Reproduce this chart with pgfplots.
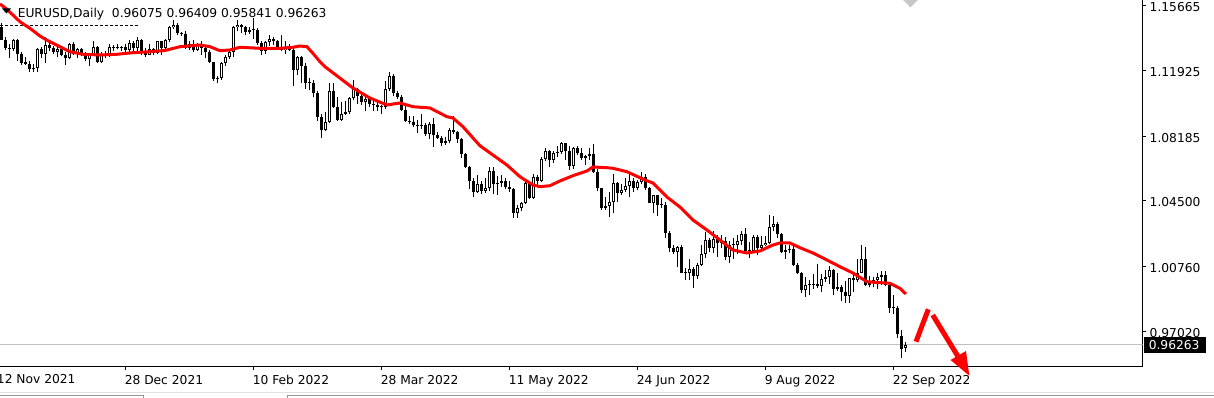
\documentclass[border=0pt]{standalone}
\usepackage{fontspec}
\setmainfont{DejaVu Sans}
\usepackage{pgfplots}
\usepackage{pgfplotstable}
\pgfplotsset{compat=1.18}

\pgfplotstableread{
i o h l c
0 1.1447 1.1464 1.1432 1.1445
1 1.1445 1.1465 1.1366 1.1369
2 1.1369 1.1386 1.1309 1.1320
3 1.1320 1.1344 1.1264 1.1319
4 1.1319 1.1374 1.1308 1.1368
5 1.1368 1.1374 1.1250 1.1288
6 1.1290 1.1300 1.1226 1.1236
7 1.1236 1.1271 1.1226 1.1234
8 1.1234 1.1248 1.1186 1.1200
9 1.1200 1.1230 1.1187 1.1208
10 1.1208 1.1325 1.1185 1.1318
11 1.1318 1.1330 1.1263 1.1290
12 1.1290 1.1383 1.1235 1.1338
13 1.1338 1.1354 1.1305 1.1320
14 1.1320 1.1335 1.1290 1.1300
15 1.1300 1.1334 1.1270 1.1315
16 1.1315 1.1318 1.1275 1.1285
17 1.1285 1.1297 1.1227 1.1265
18 1.1265 1.1353 1.1257 1.1343
19 1.1343 1.1355 1.1285 1.1290
20 1.1290 1.1325 1.1265 1.1315
21 1.1315 1.1322 1.1275 1.1285
22 1.1285 1.1298 1.1250 1.1258
23 1.1258 1.1290 1.1222 1.1290
24 1.1290 1.1360 1.1280 1.1330
25 1.1330 1.1335 1.1235 1.1240
26 1.1240 1.1300 1.1235 1.1280
27 1.1280 1.1305 1.1265 1.1285
28 1.1285 1.1345 1.1270 1.1330
29 1.1330 1.1342 1.1303 1.1325
30 1.1325 1.1345 1.1315 1.1320
31 1.1320 1.1335 1.1305 1.1328
32 1.1328 1.1345 1.1295 1.1310
33 1.1310 1.1370 1.1300 1.1350
34 1.1350 1.1360 1.1290 1.1325
35 1.1325 1.1385 1.1300 1.1370
36 1.1370 1.1375 1.1280 1.1300
37 1.1300 1.1320 1.1272 1.1285
38 1.1285 1.1346 1.1280 1.1315
39 1.1315 1.1320 1.1285 1.1295
40 1.1295 1.1365 1.1290 1.1360
41 1.1360 1.1365 1.1285 1.1325
42 1.1325 1.1375 1.1315 1.1367
43 1.1367 1.1450 1.1355 1.1440
44 1.1440 1.1482 1.1430 1.1455
45 1.1455 1.1465 1.1394 1.1410
46 1.1410 1.1415 1.1390 1.1405
47 1.1405 1.1420 1.1315 1.1325
48 1.1325 1.1360 1.1310 1.1345
49 1.1345 1.1370 1.1300 1.1310
50 1.1310 1.1350 1.1305 1.1345
51 1.1345 1.1365 1.1285 1.1325
52 1.1325 1.1330 1.1265 1.1300
53 1.1300 1.1310 1.1235 1.1240
54 1.1240 1.1245 1.1135 1.1145
55 1.1145 1.1165 1.1121 1.1150
56 1.1150 1.1240 1.1140 1.1235
57 1.1235 1.1280 1.1220 1.1270
58 1.1270 1.1315 1.1260 1.1300
59 1.1300 1.1450 1.1270 1.1440
60 1.1440 1.1485 1.1420 1.1455
61 1.1455 1.1460 1.1410 1.1440
62 1.1440 1.1450 1.1395 1.1415
63 1.1415 1.1445 1.1405 1.1425
64 1.1425 1.1495 1.1375 1.1425
65 1.1425 1.1435 1.1340 1.1350
66 1.1350 1.1365 1.1280 1.1305
67 1.1305 1.1365 1.1290 1.1355
68 1.1355 1.1395 1.1335 1.1375
69 1.1375 1.1385 1.1340 1.1360
70 1.1360 1.1370 1.1315 1.1320
71 1.1320 1.1395 1.1305 1.1310
72 1.1310 1.1360 1.1290 1.1325
73 1.1325 1.1345 1.1305 1.1310
74 1.1310 1.1320 1.1106 1.1195
75 1.1195 1.1275 1.1170 1.1270
76 1.1270 1.1275 1.1120 1.1220
77 1.1220 1.1235 1.1090 1.1125
78 1.1125 1.1150 1.1080 1.1120
79 1.1120 1.1140 1.1040 1.1065
80 1.1065 1.1075 1.0905 1.0930
81 1.0930 1.0945 1.0806 1.0855
82 1.0855 1.0955 1.0850 1.0900
83 1.0900 1.1120 1.0895 1.1075
84 1.1075 1.1120 1.0980 1.0985
85 1.0985 1.1040 1.0905 1.0910
86 1.0910 1.1015 1.0905 1.0945
87 1.0945 1.1020 1.0940 1.0955
88 1.0955 1.1045 1.0945 1.1035
89 1.1035 1.1137 1.1025 1.1090
90 1.1090 1.1095 1.1005 1.1050
91 1.1050 1.1070 1.0995 1.1015
92 1.1015 1.1045 1.0965 1.1030
93 1.1030 1.1040 1.0985 1.1005
94 1.1005 1.1025 1.0965 1.0995
95 1.0995 1.1025 1.0965 1.0985
96 1.0985 1.0995 1.0945 1.0985
97 1.0985 1.1135 1.0975 1.1090
98 1.1090 1.1185 1.1075 1.1160
99 1.1160 1.1175 1.1050 1.1065
100 1.1065 1.1075 1.1030 1.1045
101 1.1045 1.1055 1.0965 1.0970
102 1.0970 1.0990 1.0900 1.0905
103 1.0905 1.0935 1.0890 1.0900
104 1.0900 1.0935 1.0870 1.0880
105 1.0880 1.0910 1.0837 1.0875
106 1.0875 1.0945 1.0860 1.0885
107 1.0885 1.0895 1.0822 1.0830
108 1.0830 1.0900 1.0805 1.0890
109 1.0890 1.0925 1.0757 1.0825
110 1.0825 1.0840 1.0800 1.0810
111 1.0810 1.0820 1.0760 1.0780
112 1.0780 1.0815 1.0770 1.0790
113 1.0790 1.0865 1.0780 1.0855
114 1.0855 1.0935 1.0830 1.0840
115 1.0840 1.0850 1.0780 1.0800
116 1.0800 1.0810 1.0695 1.0715
117 1.0715 1.0725 1.0635 1.0640
118 1.0640 1.0650 1.0515 1.0560
119 1.0560 1.0580 1.0470 1.0500
120 1.0500 1.0595 1.0495 1.0545
121 1.0545 1.0565 1.0490 1.0505
122 1.0505 1.0580 1.0495 1.0520
123 1.0520 1.0640 1.0505 1.0620
124 1.0620 1.0640 1.0490 1.0545
125 1.0545 1.0590 1.0485 1.0550
126 1.0550 1.0595 1.0530 1.0560
127 1.0560 1.0580 1.0515 1.0530
128 1.0530 1.0565 1.0500 1.0515
129 1.0515 1.0525 1.0354 1.0380
130 1.0380 1.0425 1.0350 1.0410
131 1.0410 1.0445 1.0390 1.0435
132 1.0435 1.0560 1.0430 1.0550
133 1.0550 1.0565 1.0460 1.0465
134 1.0465 1.0600 1.0460 1.0585
135 1.0585 1.0595 1.0530 1.0560
136 1.0560 1.0700 1.0555 1.0690
137 1.0690 1.0750 1.0675 1.0735
138 1.0735 1.0740 1.0645 1.0680
139 1.0680 1.0735 1.0665 1.0725
140 1.0725 1.0765 1.0700 1.0730
141 1.0730 1.0787 1.0715 1.0780
142 1.0780 1.0780 1.0680 1.0735
143 1.0735 1.0765 1.0625 1.0650
144 1.0650 1.0755 1.0630 1.0750
145 1.0750 1.0765 1.0710 1.0720
146 1.0720 1.0750 1.0685 1.0695
147 1.0695 1.0710 1.0655 1.0705
148 1.0705 1.0750 1.0680 1.0715
149 1.0715 1.0775 1.0610 1.0615
150 1.0615 1.0630 1.0505 1.0520
151 1.0520 1.0525 1.0400 1.0410
152 1.0410 1.0470 1.0395 1.0420
153 1.0420 1.0500 1.0359 1.0445
154 1.0445 1.0600 1.0380 1.0550
155 1.0550 1.0555 1.0445 1.0495
156 1.0495 1.0545 1.0485 1.0510
157 1.0510 1.0580 1.0500 1.0535
158 1.0535 1.0605 1.0470 1.0565
159 1.0565 1.0580 1.0500 1.0520
160 1.0520 1.0570 1.0510 1.0555
161 1.0555 1.0615 1.0545 1.0585
162 1.0585 1.0605 1.0510 1.0520
163 1.0520 1.0530 1.0435 1.0440
164 1.0440 1.0485 1.0380 1.0480
165 1.0480 1.0485 1.0365 1.0425
166 1.0425 1.0465 1.0410 1.0425
167 1.0425 1.0445 1.0235 1.0265
168 1.0265 1.0275 1.0160 1.0180
169 1.0180 1.0200 1.0145 1.0160
170 1.0160 1.0190 1.0070 1.0185
171 1.0185 1.0195 1.0035 1.0040
172 1.0040 1.0065 0.9998 1.0035
173 1.0035 1.0120 0.9998 1.0060
174 1.0060 1.0070 0.9952 1.0020
175 1.0020 1.0095 1.0005 1.0085
176 1.0085 1.0200 1.0080 1.0145
177 1.0145 1.0270 1.0125 1.0225
178 1.0225 1.0235 1.0155 1.0180
179 1.0180 1.0280 1.0150 1.0230
180 1.0230 1.0255 1.0130 1.0210
181 1.0210 1.0255 1.0180 1.0220
182 1.0220 1.0245 1.0110 1.0130
183 1.0130 1.0220 1.0095 1.0200
184 1.0200 1.0235 1.0115 1.0195
185 1.0195 1.0255 1.0145 1.0220
186 1.0220 1.0275 1.0195 1.0260
187 1.0260 1.0295 1.0160 1.0165
188 1.0165 1.0215 1.0125 1.0165
189 1.0165 1.0255 1.0150 1.0245
190 1.0245 1.0255 1.0140 1.0180
191 1.0180 1.0250 1.0165 1.0195
192 1.0195 1.0250 1.0190 1.0210
193 1.0210 1.0368 1.0205 1.0300
194 1.0300 1.0365 1.0275 1.0320
195 1.0320 1.0330 1.0235 1.0260
196 1.0260 1.0265 1.0150 1.0160
197 1.0160 1.0200 1.0120 1.0170
198 1.0170 1.0200 1.0150 1.0175
199 1.0175 1.0200 1.0075 1.0085
200 1.0085 1.0095 1.0030 1.0040
201 1.0040 1.0045 0.9925 0.9940
202 0.9940 1.0015 0.9901 0.9970
203 0.9970 0.9995 0.9910 0.9970
204 0.9970 1.0030 0.9945 0.9975
205 0.9975 1.0090 0.9950 0.9965
206 0.9965 1.0030 0.9930 1.0005
207 1.0005 1.0055 0.9985 1.0015
208 1.0015 1.0080 0.9975 1.0055
209 1.0055 1.0060 0.9910 0.9945
210 0.9945 1.0035 0.9935 0.9955
211 0.9955 0.9970 0.9875 0.9930
212 0.9930 0.9990 0.9865 0.9905
213 0.9905 1.0010 0.9865 1.0010
214 1.0010 1.0030 0.9930 0.9995
215 0.9995 1.0115 0.9985 1.0040
216 1.0040 1.0198 1.0035 1.0120
217 1.0120 1.0188 0.9965 0.9970
218 0.9970 1.0020 0.9955 0.9980
219 0.9980 1.0015 0.9955 0.9995
220 0.9995 1.0035 0.9945 1.0015
221 1.0015 1.0050 0.9970 1.0025
222 1.0025 1.0050 0.9965 0.9970
223 0.9970 0.9975 0.9810 0.9835
224 0.9835 0.9910 0.9805 0.9835
225 0.9835 0.9850 0.9665 0.9690
226 0.9675 0.9710 0.9552 0.9606
227 0.96075 0.96409 0.95841 0.96263
}\candles

\pgfplotstableread{
i p
0.6 1.15740
2.275 1.15454
3.85 1.15111
5.6 1.14728
8.1 1.14351
10.6 1.13912
12.275 1.13683
15.6 1.13300
18.1 1.13015
21.35 1.12866
25.6 1.12826
29.85 1.12866
33.85 1.12958
38.1 1.13015
41.85 1.13083
45.6 1.13300
50.6 1.13398
53.1 1.13300
55.6 1.13072
58.1 1.13112
60.6 1.13266
65.6 1.13209
70.6 1.13209
73.85 1.13266
75.6 1.13340
77.35 1.13300
78.85 1.12923
80.6 1.12444
81.85 1.12158
84.85 1.11638
88.85 1.10941
93.1 1.10370
97.35 1.09970
100.6 1.10084
103.85 1.09873
108.1 1.09799
112.35 1.09302
113.85 1.09228
116.35 1.08731
120.6 1.07645
123.85 1.07114
127.35 1.06543
130.6 1.05874
133.85 1.05400
135.6 1.05303
138.1 1.05360
140.6 1.05629
143.85 1.05931
147.35 1.06200
148.85 1.06429
152.35 1.06388
153.85 1.06354
157.35 1.06160
161.85 1.05686
163.85 1.05515
167.35 1.04715
170.6 1.04144
173.85 1.03401
177.35 1.02830
180.6 1.02259
183.85 1.01687
187.35 1.01516
190.6 1.01630
193.85 1.01973
195.6 1.02088
198.1 1.02088
200.6 1.01819
203.85 1.01516
207.35 1.01116
210.6 1.00734
213.85 1.00373
217.35 0.99877
220.6 0.99820
223.1 0.99785
225.6 0.99499
227.1 0.99174
}\ma

\newcommand{\tlfont}{\fontsize{9.2pt}{11pt}\selectfont}

\begin{document}
\begin{tikzpicture}
\path[use as bounding box] (0,0) rectangle (910.5pt,298.5pt);
\fill[white] (0,0) rectangle (910.5pt,298.5pt);
\begin{axis}[
  at={(0pt,298.5pt)}, anchor=north west,
  scale only axis, width=856.875pt, height=275.25pt,
  xmin=0.625, xmax=286.25, ymin=0.95004, ymax=1.15968,
  axis x line*=bottom, axis y line*=right,
  axis line style={line width=0.75pt, black},
  tick style={line width=0.75pt, black},
  tick align=outside, major tick length=2.6pt,
  scaled y ticks=false,
  xtick={32,64,96,128,160,192,224},
  xticklabels={28 Dec 2021,10 Feb 2022,28 Mar 2022,11 May 2022,24 Jun 2022,9 Aug 2022,22 Sep 2022},
  ytick={0.97020,1.00760,1.04500,1.08185,1.11925,1.15665},
  yticklabels={0.97020,1.00760,1.04500,1.08185,1.11925,1.15665},
  tick label style={font=\tlfont, inner sep=0pt},
  xticklabel style={anchor=north west, xshift=-0.75pt, yshift=-3.5pt},
  yticklabel style={anchor=west, xshift=2.6pt, yshift=-1pt},
]
\addplot[color={rgb,255:red,192;green,192;blue,192}, line width=0.75pt] coordinates {(0.625,0.96263) (286.25,0.96263)};
\addplot[black, line width=0.75pt, dash pattern=on 2.25pt off 1.5pt] coordinates {(0.625,1.14511) (35.6,1.14511)};
% wicks
\addplot[draw=none, mark=none, forget plot,
  error bars/.cd, y dir=plus, y explicit, error mark=none,
  error bar style={draw=black, line width=0.75pt}]
  table[x=i, y=l, y error plus expr={\thisrow{h}-\thisrow{l}}] {\candles};
% bodies
\addplot[draw=none, mark=none, forget plot,
  error bars/.cd, y dir=plus, y explicit, error mark=none,
  error bar style={draw=black, line width=2.25pt}]
  table[x=i, y expr={min(\thisrow{o},\thisrow{c})}, y error plus expr={max(abs(\thisrow{c}-\thisrow{o}),0.00058)}] {\candles};
% hollow interior of bullish candles
\addplot[draw=none, mark=none, forget plot,
  restrict expr to domain={\thisrow{c}-\thisrow{o}}{0.0013:1},
  error bars/.cd, y dir=plus, y explicit, error mark=none,
  error bar style={draw=white, line width=0.75pt}]
  table[x=i, y expr={\thisrow{o}+0.00057}, y error plus expr={\thisrow{c}-\thisrow{o}-0.00114}] {\candles};
% moving average
\addplot[color={rgb,255:red,255;green,0;blue,0}, line width=2.25pt] table[x=i, y=p] {\ma};
\end{axis}
\begin{scope}[x=0.75pt, y=-0.75pt, shift={(0pt,298.5pt)}]
  \node[anchor=north west, inner sep=0pt, font=\tlfont] at (-3.3,374.5) {12 Nov 2021};
  \fill[black] (2,8.5) -- (11,8.5) -- (6.5,13.5) -- cycle;
  \node[anchor=base west, inner sep=0pt, font=\tlfont] at (17.5,17.5) {EURUSD,Daily~~0.96075 0.96409 0.95841 0.96263};
  \fill[color={rgb,255:red,200;green,200;blue,200}] (903,0) -- (918,0) -- (910.5,7.5) -- cycle;
  \fill[black] (1144,336.7) rectangle (1206,353.3);
  \node[anchor=base west, inner sep=0pt, font=\tlfont, text=white] at (1148.5,349.5) {0.96263};
  \draw[color={rgb,255:red,225;green,225;blue,225}, line width=0.75pt] (0,392.5) -- (1214,392.5);
  \draw[color={rgb,255:red,150;green,150;blue,150}, line width=0.75pt] (0,395.5) -- (143,395.5) -- (143,398);
  \draw[color={rgb,255:red,150;green,150;blue,150}, line width=0.75pt] (287,398) -- (287,395.5) -- (1214,395.5);
  \draw[color={rgb,255:red,255;green,0;blue,0}, line width=3.75pt] (916,341.7) -- (928.3,309.3);
  \draw[color={rgb,255:red,255;green,0;blue,0}, line width=3.75pt] (932.7,315) -- (958.3,357);
  \fill[color={rgb,255:red,255;green,0;blue,0}] (950.5,360) -- (966,351) -- (969.3,375.7) -- cycle;
\end{scope}
\end{tikzpicture}
\end{document}
